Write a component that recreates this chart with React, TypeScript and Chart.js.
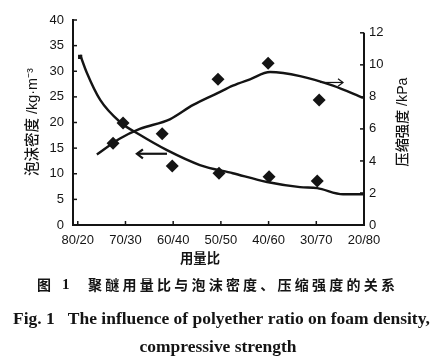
import React, { useEffect, useRef } from 'react';
import { Chart, registerables } from 'chart.js';

Chart.register(...registerables);

const INK = '#141414';

// x axis categories (positions 0..6)
const categories = ['80/20', '70/30', '60/40', '50/50', '40/60', '30/70', '20/80'];
const strengthTicks = [0, 2, 4, 6, 8, 10, 12];

// measured foam density points (kg/m3, left axis)
const densityPointX = [0.05, 0.95, 1.98, 2.96, 4.01, 5.02];
const densityPointY = [32.8, 19.9, 11.5, 10.1, 9.4, 8.6];

// measured compressive strength points (kPa, right axis)
const strengthPointX = [0.74, 1.77, 2.94, 3.99, 5.06];
const strengthPointY = [5.1, 5.7, 9.1, 10.1, 7.8];

// fitted density curve
const densityCurveX = [0.05, 0.19, 0.47, 0.885, 1.3, 1.87, 2.56, 3.25, 3.97, 4.66, 5.02, 5.56, 5.98];
const densityCurveY = [33.2, 29.7, 24.4, 20.1, 17.6, 14.6, 11.7, 10.1, 8.4, 7.4, 7.2, 6.0, 6.0];

// fitted strength curve
const strengthCurveX = [0.4, 0.885, 1.3, 1.93, 2.42, 2.94, 3.25, 3.61, 4.03, 4.66, 5.35, 5.98];
const strengthCurveY = [4.4, 5.4, 6.0, 6.6, 7.5, 8.25, 8.7, 9.1, 9.55, 9.3, 8.7, 7.94];

// arrows: [tail, head]
const densityArrowX = [1.87, 1.24];
const densityArrowY = [13.9, 13.9];
const strengthArrowX = [5.08, 5.56];
const strengthArrowY = [8.9, 8.9];

const leftTitle = '泡沫密度 /kg·m⁻³';
const rightTitle = '压缩强度 /kPa';
const xTitle = '用量比';
const captionCnLabel = '图';
const captionCnNum = '1';
const captionCn = '聚醚用量比与泡沫密度、压缩强度的关系';
const captionEn1 = 'Fig. 1   The influence of polyether ratio on foam density,';
const captionEn2 = 'compressive strength';

const zip = (xs: number[], ys: number[]) => xs.map((x, i) => ({ x, y: ys[i] }));

function fitSize(ctx: CanvasRenderingContext2D, text: string, weight: string, family: string, targetW: number) {
  ctx.font = `${weight} 20px ${family}`;
  const w = ctx.measureText(text).width;
  return (20 * targetW) / w;
}

const decor = {
  id: 'decor',
  afterDraw(chart: any) {
    const { ctx, chartArea, scales } = chart;
    const xs = scales.x, ys = scales.y, y1 = scales.y1;
    const { left, right, bottom } = chartArea;
    ctx.save();
    ctx.strokeStyle = INK;
    ctx.fillStyle = INK;
    ctx.lineCap = 'butt';

    // right axis line (only up to 12)
    ctx.lineWidth = 2;
    ctx.beginPath();
    ctx.moveTo(right, y1.getPixelForValue(0) + 1);
    ctx.lineTo(right, y1.getPixelForValue(12));
    ctx.stroke();

    // inward ticks
    ctx.lineWidth = 1.5;
    xs.ticks.forEach((_t: any, i: number) => {
      const px = xs.getPixelForTick(i);
      ctx.beginPath();
      ctx.moveTo(px, bottom);
      ctx.lineTo(px, bottom - 4);
      ctx.stroke();
    });
    ys.ticks.forEach((_t: any, i: number) => {
      const py = ys.getPixelForTick(i);
      ctx.beginPath();
      ctx.moveTo(left, py);
      ctx.lineTo(left + 4, py);
      ctx.stroke();
    });
    y1.ticks.forEach((_t: any, i: number) => {
      const py = y1.getPixelForTick(i);
      ctx.beginPath();
      ctx.moveTo(right, py);
      ctx.lineTo(right - 4, py);
      ctx.stroke();
    });

    // arrows
    const arrow = (ax: number[], ay: number[], yScale: any, lw: number, head: number) => {
      const x0 = xs.getPixelForValue(ax[0]);
      const x1 = xs.getPixelForValue(ax[1]);
      const py0 = yScale.getPixelForValue(ay[0]);
      const py1 = yScale.getPixelForValue(ay[1]);
      ctx.lineWidth = lw;
      ctx.beginPath();
      ctx.moveTo(x0, py0);
      ctx.lineTo(x1, py1);
      ctx.stroke();
      const dir = Math.sign(x1 - x0);
      ctx.beginPath();
      ctx.moveTo(x1 - dir * head, py1 - head * 0.75);
      ctx.lineTo(x1, py1);
      ctx.lineTo(x1 - dir * head, py1 + head * 0.75);
      ctx.stroke();
    };
    arrow(densityArrowX, densityArrowY, ys, 2.2, 6);
    arrow(strengthArrowX, strengthArrowY, y1, 1.2, 5);

    // axis titles
    const mixed = '"Liberation Sans", "Noto Sans CJK SC", sans-serif';
    const cjk = '"Noto Sans CJK SC", "Liberation Sans", sans-serif';
    ctx.textAlign = 'center';
    ctx.textBaseline = 'middle';

    let s = fitSize(ctx, leftTitle, '500', mixed, 108);
    ctx.font = `500 ${s}px ${mixed}`;
    ctx.save();
    ctx.translate(33, 122);
    ctx.rotate(-Math.PI / 2);
    ctx.fillText(leftTitle, 0, 0);
    ctx.restore();

    s = fitSize(ctx, rightTitle, '500', mixed, 89);
    ctx.font = `500 ${s}px ${mixed}`;
    ctx.save();
    ctx.translate(403, 122);
    ctx.rotate(-Math.PI / 2);
    ctx.fillText(rightTitle, 0, 0);
    ctx.restore();

    s = fitSize(ctx, xTitle, 'bold', cjk, 40);
    ctx.font = `bold ${s}px ${cjk}`;
    ctx.fillText(xTitle, 200, 258);

    // captions
    ctx.textAlign = 'left';
    ctx.font = `bold 14px ${cjk}`;
    ctx.fillText(captionCnLabel, 37, 285);
    ctx.font = `bold 15px "Liberation Serif", serif`;
    ctx.fillText(captionCnNum, 62, 285);
    ctx.font = `bold 14px ${cjk}`;
    const w = ctx.measureText(captionCn).width;
    const chars = Array.from(captionCn);
    const pitch = (307 - w) / (chars.length - 1);
    let cx = 88;
    chars.forEach((ch) => {
      ctx.fillText(ch, cx, 285);
      cx += ctx.measureText(ch).width + pitch;
    });

    const serif = '"Liberation Serif", "DejaVu Serif", serif';
    s = fitSize(ctx, captionEn1, 'bold', serif, 417);
    ctx.font = `bold ${s}px ${serif}`;
    ctx.fillText(captionEn1, 13, 319);
    ctx.textAlign = 'center';
    ctx.font = `bold ${s}px ${serif}`;
    ctx.fillText(captionEn2, 218, 347);

    ctx.restore();
  },
};

export default function App() {
  const ref = useRef<HTMLCanvasElement | null>(null);

  useEffect(() => {
    document.body.style.margin = '0';
    const canvas = ref.current;
    if (!canvas) return;
    const tickFont = { family: '"Liberation Sans", Arial, sans-serif', size: 13 };
    const chart = new Chart(canvas, {
      type: 'line',
      data: {
        datasets: [
          {
            data: zip(densityCurveX, densityCurveY),
            yAxisID: 'y',
            borderColor: INK,
            borderWidth: 2.4,
            pointRadius: 0,
            tension: 0.4,
            cubicInterpolationMode: 'monotone',
            fill: false,
          },
          {
            data: zip(strengthCurveX, strengthCurveY),
            yAxisID: 'y1',
            borderColor: INK,
            borderWidth: 2.4,
            pointRadius: 0,
            tension: 0.4,
            cubicInterpolationMode: 'monotone',
            fill: false,
          },
          {
            data: zip(densityPointX, densityPointY),
            yAxisID: 'y',
            showLine: false,
            pointStyle: densityPointX.map((_, i) => (i === 0 ? 'rect' : 'rectRot')),
            pointRadius: densityPointX.map((_, i) => (i === 0 ? 3 : 6.5)),
            pointBackgroundColor: INK,
            pointBorderColor: INK,
            pointBorderWidth: 0,
          },
          {
            data: zip(strengthPointX, strengthPointY),
            yAxisID: 'y1',
            showLine: false,
            pointStyle: 'rectRot',
            pointRadius: 6.5,
            pointBackgroundColor: INK,
            pointBorderColor: INK,
            pointBorderWidth: 0,
          },
        ],
      },
      options: {
        animation: false,
        responsive: false,
        maintainAspectRatio: false,
        events: [],
        layout: { padding: { top: 20, bottom: 107, left: 0, right: 0 } },
        plugins: {
          legend: { display: false },
          tooltip: { enabled: false },
          title: { display: false },
        },
        scales: {
          x: {
            type: 'linear',
            min: -0.1,
            max: 6,
            afterFit: (scale: any) => {
              scale.height = 30;
            },
            afterBuildTicks: (scale: any) => {
              scale.ticks = categories.map((_, i) => ({ value: i }));
            },
            ticks: {
              font: tickFont,
              color: INK,
              padding: 8,
              maxRotation: 0,
              autoSkip: false,
              callback: (v: any) => categories[Math.round(Number(v))] ?? '',
            },
            grid: { display: true, drawOnChartArea: false, drawTicks: false },
            border: { display: true, color: INK, width: 2 },
          },
          y: {
            type: 'linear',
            position: 'left',
            min: 0,
            max: 40,
            afterFit: (scale: any) => {
              scale.width = 73;
            },
            ticks: { stepSize: 5, font: tickFont, color: INK, padding: 9 },
            grid: { display: true, drawOnChartArea: false, drawTicks: false },
            border: { display: true, color: INK, width: 2 },
          },
          y1: {
            type: 'linear',
            position: 'right',
            min: 0,
            max: 12.8,
            afterFit: (scale: any) => {
              scale.width = 76;
            },
            afterBuildTicks: (scale: any) => {
              scale.ticks = strengthTicks.map((v) => ({ value: v }));
            },
            ticks: {
              font: tickFont,
              color: INK,
              padding: 5,
              autoSkip: false,
              callback: (v: any) => String(v),
            },
            grid: { display: false, drawOnChartArea: false, drawTicks: false },
            border: { display: false },
          },
        },
      },
      plugins: [decor],
    } as any);
    return () => chart.destroy();
  }, []);

  return (
    <div style={{ width: 440, height: 362, background: '#fff' }}>
      <canvas ref={ref} width={440} height={362} style={{ display: 'block', width: 440, height: 362 }} />
    </div>
  );
}
